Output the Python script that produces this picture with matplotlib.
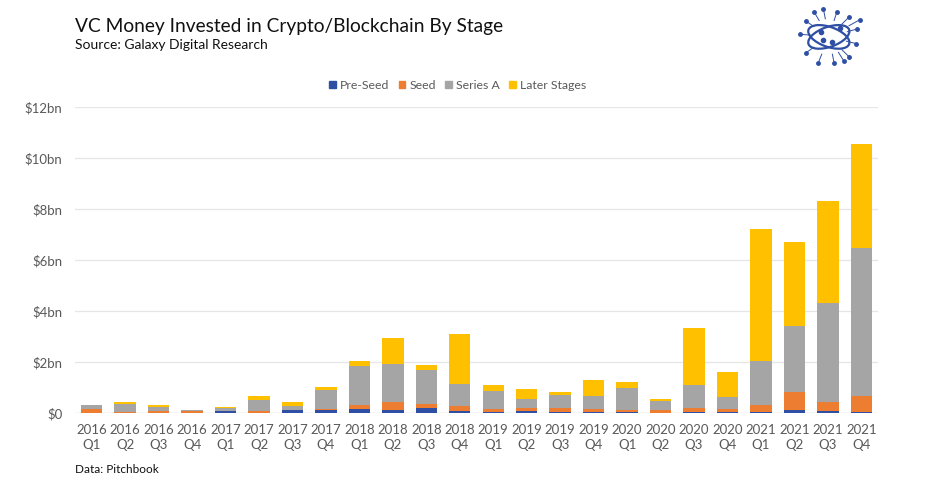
import matplotlib
matplotlib.use("Agg")
import matplotlib.pyplot as plt
import matplotlib.patches as mpatches
import numpy as np

plt.rcParams['font.family'] = ['Lato', 'DejaVu Sans']

# quarters
quarters = ["2016\nQ1", "2016\nQ2", "2016\nQ3", "2016\nQ4",
            "2017\nQ1", "2017\nQ2", "2017\nQ3", "2017\nQ4",
            "2018\nQ1", "2018\nQ2", "2018\nQ3", "2018\nQ4",
            "2019\nQ1", "2019\nQ2", "2019\nQ3", "2019\nQ4",
            "2020\nQ1", "2020\nQ2", "2020\nQ3", "2020\nQ4",
            "2021\nQ1", "2021\nQ2", "2021\nQ3", "2021\nQ4"]

# $bn invested per stage
pre_seed = [0.01, 0.01, 0.01, 0.01, 0.06, 0.01, 0.10, 0.10,
            0.14, 0.13, 0.18, 0.06, 0.04, 0.08, 0.04, 0.04,
            0.04, 0.01, 0.02, 0.04, 0.05, 0.10, 0.07, 0.04]
seed = [0.15, 0.04, 0.06, 0.07, 0.02, 0.05, 0.03, 0.06,
        0.16, 0.31, 0.18, 0.23, 0.13, 0.12, 0.14, 0.11,
        0.09, 0.12, 0.18, 0.13, 0.25, 0.74, 0.37, 0.64]
series_a = [0.15, 0.29, 0.18, 0.02, 0.13, 0.44, 0.14, 0.73,
            1.54, 1.49, 1.34, 0.85, 0.70, 0.35, 0.51, 0.52,
            0.85, 0.33, 0.90, 0.47, 1.75, 2.57, 3.86, 5.78]
later = [0.02, 0.10, 0.05, 0.02, 0.03, 0.18, 0.16, 0.11,
         0.20, 1.00, 0.17, 1.97, 0.24, 0.39, 0.13, 0.64,
         0.22, 0.09, 2.23, 0.98, 5.18, 3.30, 4.01, 4.10]

series = [("Pre-Seed", pre_seed, "#2E4FA3"),
          ("Seed", seed, "#ED7D31"),
          ("Series A", series_a, "#A5A5A5"),
          ("Later Stages", later, "#FFC000")]

fig = plt.figure(figsize=(9.36, 4.92), dpi=100)
ax = fig.add_axes([0.0801, 0.1606, 0.858, 0.622])

x = np.arange(len(quarters))
bottom = np.zeros(len(quarters))
handles = []
for name, vals, col in series:
    vals = np.array(vals)
    ax.bar(x, vals, 0.64, bottom=bottom, color=col, zorder=3)
    handles.append(mpatches.Patch(color=col, label=name))
    bottom += vals

ax.set_xlim(-0.5, len(quarters) - 0.5)
ax.set_ylim(0, 12)
ax.set_yticks(np.arange(0, 13, 2))
ax.set_yticklabels(["$0"] + ["$%dbn" % v for v in range(2, 13, 2)])
ax.set_xticks(x)
ax.set_xticklabels(quarters, linespacing=1.25)
ax.tick_params(axis='both', length=0, labelsize=9.5, labelcolor="#595959")
ax.tick_params(axis='y', pad=9)
ax.tick_params(axis='x', pad=8)
ax.grid(axis='y', color="#E6E6E6", linewidth=0.9, zorder=0)
for s in ax.spines.values():
    s.set_visible(False)
ax.axhline(0, color="#D9D9D9", linewidth=0.9, zorder=2)

fig.legend(handles=handles, loc="center", bbox_to_anchor=(0.489, 0.827), ncol=4,
           frameon=False, fontsize=8.8, handlelength=0.55, handleheight=0.55,
           handletextpad=0.35, columnspacing=0.75, labelcolor="#595959")

fig.text(0.0801, 0.947, "VC Money Invested in Crypto/Blockchain By Stage",
         fontsize=13.8, color="#111111", va="center")
fig.text(0.0801, 0.908, "Source: Galaxy Digital Research",
         fontsize=10, color="#111111", va="center")
fig.text(0.0801, 0.045, "Data: Pitchbook", fontsize=8.5, color="#111111", va="center")

# small network-style logo, top right
lax = fig.add_axes([0.848, 0.855, 0.075, 0.14])
lax.set_xlim(-1.3, 1.3)
lax.set_ylim(-1.3, 1.3)
lax.axis("off")
blue = "#2E4FA3"
for ang in (20, -20):
    lax.add_patch(mpatches.Ellipse((0, 0), 1.6, 0.75, angle=ang, fill=False,
                                   edgecolor=blue, linewidth=1.6))
nodes = [(-0.2, 1.05), (0.3, 0.95), (0.75, 0.75), (1.05, 0.3), (1.0, -0.25),
         (0.75, -0.75), (0.2, -1.0), (-0.4, -1.0), (-0.85, -0.6), (-1.05, 0.1),
         (-0.85, 0.6), (-0.55, 0.95), (0.55, -0.9), (1.15, 0.65)]
for (nx, ny) in nodes:
    lax.plot([nx * 0.65, nx], [ny * 0.65, ny], color=blue, linewidth=0.7)
    lax.plot(nx, ny, "o", color=blue, markersize=2.5)
lax.plot([-0.3, 0.4, 0.1, -0.2], [0.2, 0.35, -0.2, -0.1], "o", color=blue, markersize=3)

fig.savefig("out.png", dpi=100)
